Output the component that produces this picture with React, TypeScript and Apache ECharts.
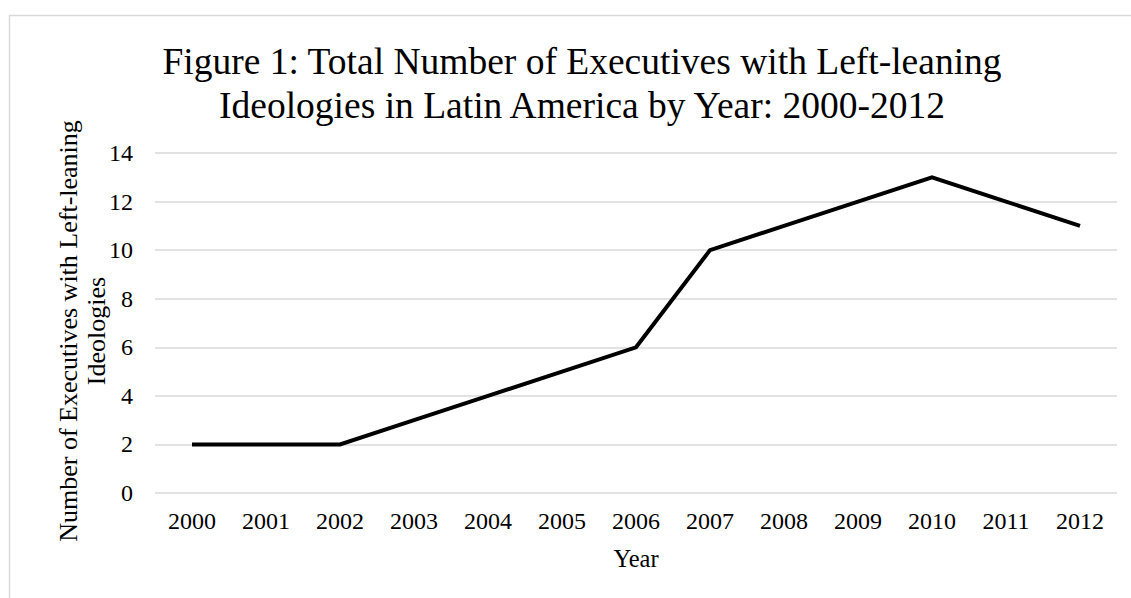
import React, { useEffect, useRef } from "react";
import * as echarts from "echarts";

const years = ["2000", "2001", "2002", "2003", "2004", "2005", "2006", "2007", "2008", "2009", "2010", "2011", "2012"];
const executives = [2, 2, 2, 3, 4, 5, 6, 10, 11, 12, 13, 12, 11];
const titleText = "Figure 1: Total Number of Executives with Left-leaning\nIdeologies in Latin America by Year: 2000-2012";
const yAxisName = "Number of Executives with Left-leaning\nIdeologies";
const xAxisName = "Year";

const FONT = "'Liberation Serif', 'Times New Roman', serif";

export default function App() {
  const ref = useRef<HTMLDivElement>(null);
  useEffect(() => {
    document.body.style.margin = "0";
    const chart = echarts.init(ref.current!, null, { renderer: "svg" });
    chart.setOption({
      animation: false,
      backgroundColor: "#ffffff",
      graphic: [
        {
          type: "rect",
          shape: { x: 9.5, y: 15.5, width: 1300, height: 800 },
          style: { fill: "none", stroke: "#d9d9d9", lineWidth: 1.5 },
          silent: true,
          z: -1,
        },
      ],
      title: {
        text: titleText,
        left: 577,
        top: 34,
        textAlign: "center",
        textStyle: {
          fontFamily: FONT,
          fontSize: 37.5,
          fontWeight: "normal",
          color: "#000",
          lineHeight: 44,
        },
      },
      grid: { left: 155, right: 14, top: 153, bottom: 105, containLabel: false },
      xAxis: {
        type: "category",
        data: years,
        boundaryGap: true,
        name: xAxisName,
        nameLocation: "middle",
        nameGap: 53,
        nameTextStyle: { fontFamily: FONT, fontSize: 24.5, color: "#000" },
        axisLine: { show: false },
        axisTick: { show: false },
        axisLabel: { fontFamily: FONT, fontSize: 24, color: "#000", margin: 16 },
        splitLine: { show: false },
      },
      yAxis: {
        type: "value",
        min: 0,
        max: 14,
        interval: 2,
        name: yAxisName,
        nameLocation: "middle",
        nameGap: 45,
        nameMoveOverlap: false,
        nameRotate: 90,
        nameTextStyle: { fontFamily: FONT, fontSize: 26, color: "#000", lineHeight: 28, padding: [0, 16, 0, 0] },
        axisLine: { show: false },
        axisTick: { show: false },
        axisLabel: { fontFamily: FONT, fontSize: 24, color: "#000", margin: 22 },
        splitLine: { show: true, lineStyle: { color: "#d9d9d9", width: 1.5 } },
      },
      series: [
        {
          type: "line",
          data: executives,
          symbol: "none",
          lineStyle: { color: "#000", width: 4, join: "miter" },
          itemStyle: { color: "#000" },
        },
      ],
    });
    return () => chart.dispose();
  }, []);
  return <div ref={ref} style={{ width: 1131, height: 598 }} />;
}
